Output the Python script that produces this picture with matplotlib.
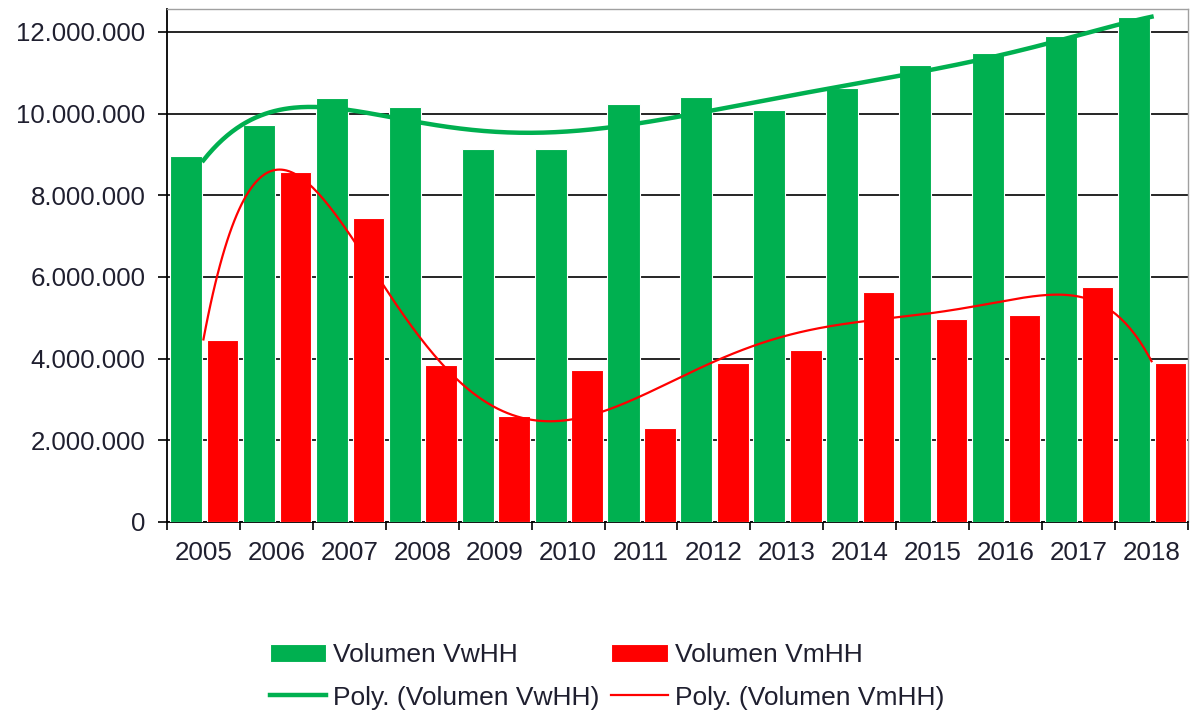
import numpy as np
import matplotlib
matplotlib.use("Agg")
import matplotlib.pyplot as plt
from matplotlib.ticker import FixedLocator, FuncFormatter

# data
years = ["2005", "2006", "2007", "2008", "2009", "2010", "2011",
         "2012", "2013", "2014", "2015", "2016", "2017", "2018"]
vol_vwhh = [8950000, 9720000, 10370000, 10150000, 9130000, 9130000, 10230000,
            10410000, 10100000, 10630000, 11190000, 11490000, 11900000, 12370000]
vol_vmhh = [4460000, 8570000, 7450000, 3850000, 2590000, 3710000, 2310000,
            3890000, 4210000, 5640000, 4970000, 5070000, 5760000, 3890000]

green = "#00B050"
red = "#FF0000"
txt = "#1f1f2f"

plt.rcParams["font.family"] = ["Liberation Sans", "DejaVu Sans"]

fig = plt.figure(figsize=(11.9, 7.12), dpi=100)
ax = fig.add_axes([0.1403, 0.2669, 0.8580, 0.7198])

x = np.arange(len(years))
b1 = ax.bar(x - 0.24, vol_vwhh, width=0.44, color=green, edgecolor="white",
            linewidth=0.8, zorder=3, label="Volumen VwHH")
b2 = ax.bar(x + 0.26, vol_vmhh, width=0.43, color=red, edgecolor="white",
            linewidth=0.8, zorder=3, label="Volumen VmHH")

# polynomial trendlines (order 6, like the spreadsheet)
xs = np.linspace(0, len(years) - 1, 400)
p1 = np.polyfit(x, vol_vwhh, 6)
p2 = np.polyfit(x, vol_vmhh, 6)
l1, = ax.plot(xs, np.polyval(p1, xs), color=green, lw=3.2, zorder=4,
              label="Poly. (Volumen VwHH)")
l2, = ax.plot(xs, np.polyval(p2, xs), color=red, lw=1.6, zorder=4,
              label="Poly. (Volumen VmHH)")

ax.set_xlim(-0.5, len(years) - 0.5)
ax.set_ylim(0, 12550000)

ax.set_yticks(np.arange(0, 12000001, 2000000))
ax.yaxis.set_major_formatter(FuncFormatter(lambda v, p: f"{int(v):,}".replace(",", ".")))
ax.yaxis.grid(True, color="black", lw=1.2, zorder=1)
ax.set_axisbelow(True)

ax.xaxis.set_major_locator(FixedLocator(np.arange(-0.5, len(years), 1.0)))
ax.xaxis.set_major_formatter(FuncFormatter(lambda v, p: ""))
ax.xaxis.set_minor_locator(FixedLocator(x))
ax.set_xticklabels(years, minor=True)
ax.tick_params(axis="x", which="major", length=6, width=1.2, color="black")
ax.tick_params(axis="x", which="minor", length=0, pad=14, labelsize=18.7, labelcolor=txt)
ax.tick_params(axis="y", length=6.5, width=1.2, pad=9, labelsize=18.6, labelcolor=txt)

for s in ["top", "right"]:
    ax.spines[s].set_color("#a0a0a0")
    ax.spines[s].set_linewidth(1.0)
for s in ["left", "bottom"]:
    ax.spines[s].set_color("black")
    ax.spines[s].set_linewidth(1.3)

fig.legend(handles=[b1, l1, b2, l2], ncol=2, loc="center",
           bbox_to_anchor=(0.51, 0.05), frameon=False, fontsize=19,
           handlelength=2.15, handletextpad=0.25, columnspacing=0.45,
           labelspacing=0.7, labelcolor=txt)

fig.savefig("out.png", dpi=100, facecolor="white")
